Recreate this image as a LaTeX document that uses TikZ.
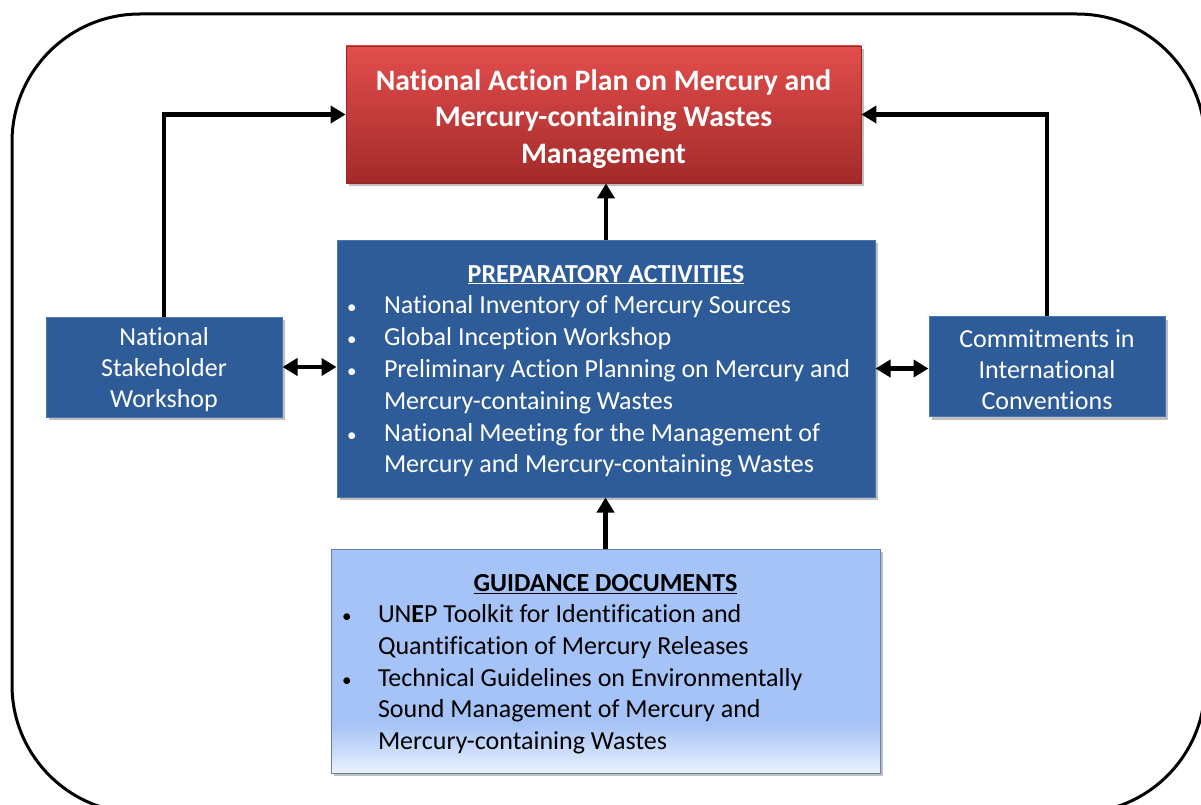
\documentclass[tikz,border=0pt]{standalone}
\usepackage{fontspec}
\setmainfont[Ligatures=NoCommon]{Carlito}
\usetikzlibrary{arrows.meta,shadows}

\definecolor{planTop}{RGB}{226,78,76}
\definecolor{planBot}{RGB}{163,42,42}
\definecolor{planEdge}{RGB}{150,38,38}
\definecolor{boxBlue}{RGB}{46,92,152}
\definecolor{boxEdge}{RGB}{74,118,178}
\definecolor{guideBlue}{RGB}{165,195,246}
\definecolor{guideLight}{RGB}{234,241,253}
\definecolor{guideEdge}{RGB}{104,128,168}

% light blue fill that fades towards white along the bottom edge
\pgfdeclareverticalshading{guideshade}{100bp}{color(0bp)=(guideLight); color(25bp)=(guideLight); color(36bp)=(guideBlue); color(100bp)=(guideBlue)}

% small list bullet
\newcommand{\lbul}{\hspace*{-5pt}{\fontsize{19}{19}\selectfont\textbullet}}

\begin{document}
\begin{tikzpicture}[x=1pt,y=-1pt,
  tip/.tip={Triangle[length=15pt,width=17pt]},
  arr/.style={line width=4.5pt,-tip},
  darr/.style={line width=4.5pt,tip-tip},
  softshadow/.style={drop shadow={shadow xshift=2.5pt,shadow yshift=-3pt,opacity=0.25,fill=black}},
  planbox/.style={softshadow,draw=planEdge,line width=0.8pt,top color=planTop,bottom color=planBot,
    text=white,align=center,inner sep=0pt,minimum width=515pt,minimum height=137pt,
    font=\fontsize{29.7}{36.5}\selectfont\bfseries},
  bluebox/.style={softshadow,draw=boxEdge,line width=1pt,fill=boxBlue,text=white,inner sep=0pt,
    font=\fontsize{26}{31.8}\selectfont},
  sidebox/.style={bluebox,align=center,minimum width=236pt,minimum height=100pt,
    font=\fontsize{26}{31}\selectfont},
  guidebox/.style={softshadow,draw=guideEdge,line width=1pt,shading=guideshade,text=black,inner sep=0pt,
    minimum width=549pt,minimum height=224pt,font=\fontsize{26}{31.6}\selectfont}]

\fill[white] (0,0) rectangle (1201,805);
\useasboundingbox (0,0) rectangle (1201,805);

% outer frame
\draw[line width=3pt,rounded corners=128pt] (12,14) rectangle (1205,813);

\node[planbox] (plan) at (603.5,114.5)
  {\rule{0pt}{30pt}National Action Plan on Mercury and\\Mercury-containing Wastes\\Management};

\node[bluebox,minimum width=538pt,minimum height=257pt] (prep) at (606,368.5) {%
  \begin{tabular}{@{}p{32pt}@{}p{476pt}@{}}
  \multicolumn{2}{c}{\rule{0pt}{27.5pt}\bfseries\underline{PREPARATORY ACTIVITIES}}\\
  \lbul & National Inventory of Mercury Sources\\
  \lbul & Global Inception Workshop\\
  \lbul & Preliminary Action Planning on Mercury and\\
        & Mercury-containing Wastes\\
  \lbul & National Meeting for the Management of\\
        & Mercury and Mercury-containing Wastes
  \end{tabular}};

\node[sidebox] (stake) at (164,367) {\rule{0pt}{24pt}National\\Stakeholder\\Workshop};
\node[sidebox] (conv) at (1047,366.5) {\rule{0pt}{24pt}Commitments in\\International\\Conventions};

\node[guidebox] (guide) at (605.5,661) {%
  \begin{tabular}{@{}p{31pt}@{}p{486pt}@{}}
  \multicolumn{2}{c}{\rule{0pt}{28pt}\bfseries\underline{GUIDANCE DOCUMENTS}}\\
  \lbul & UN\textbf{E}P Toolkit for Identification and\\
        & Quantification of Mercury Releases\\
  \lbul & Technical Guidelines on Environmentally\\
        & Sound Management of Mercury and\\
        & Mercury-containing Wastes
  \end{tabular}};

% connectors
\draw[arr] (prep.north) -- (prep.north |- plan.south);
\draw[arr] (guide.north) -- (guide.north |- prep.south);
\draw[arr] (stake.north) |- (plan.west);
\draw[arr] (conv.north) |- (plan.east);
\draw[darr] (stake.east) -- (stake.east -| prep.west);
\draw[darr] (prep.east) -- (prep.east -| conv.west);
\end{tikzpicture}
\end{document}
